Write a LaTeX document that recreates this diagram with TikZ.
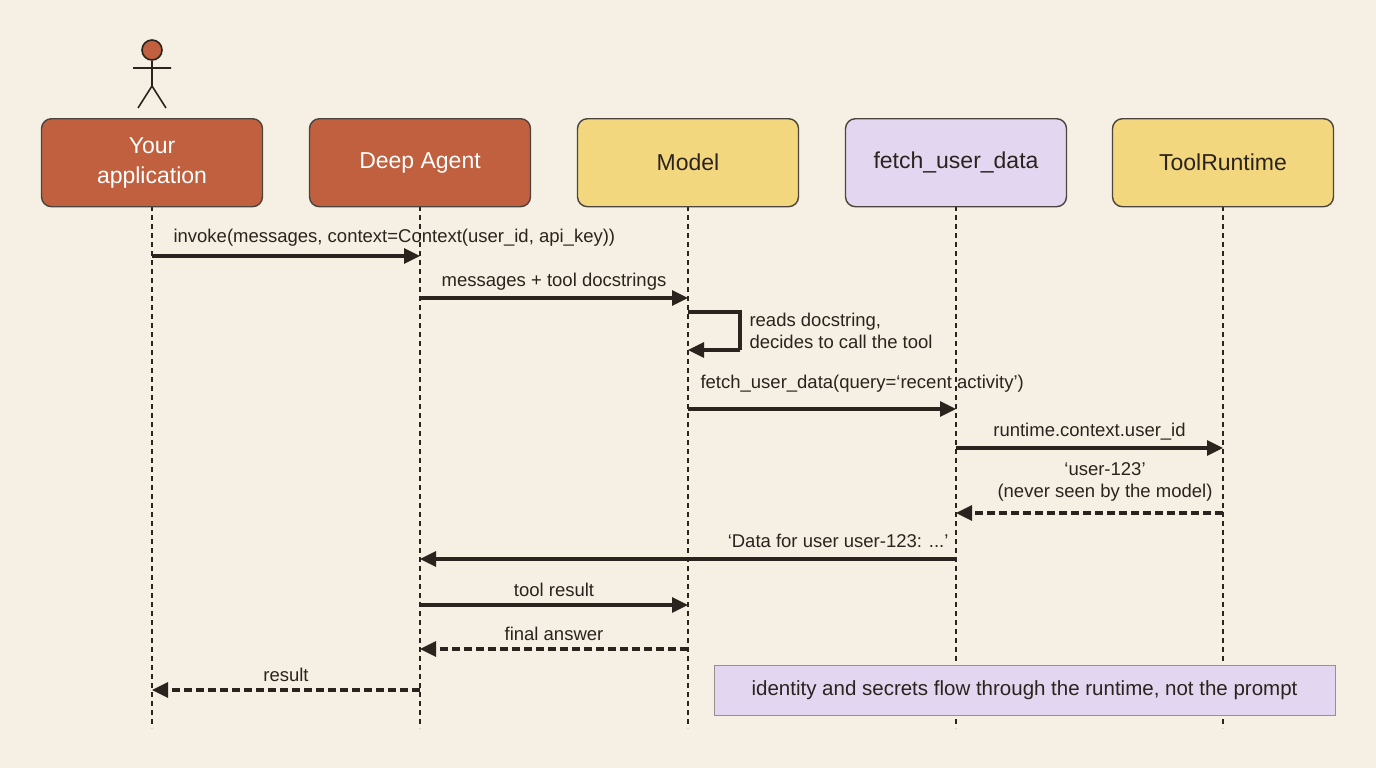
\documentclass[tikz,border=0pt]{standalone}
\usepackage{fontspec}
\setmainfont{Liberation Sans}
\usetikzlibrary{arrows.meta}
\definecolor{bg}{HTML}{F5F0E3}
\definecolor{org}{HTML}{C0603E}
\definecolor{yel}{HTML}{F2D77F}
\definecolor{lav}{HTML}{E3D6F0}
\definecolor{ink}{HTML}{2B231D}
\begin{document}
\begin{tikzpicture}[x=1pt,y=-1pt,
  box/.style={draw=ink!85,line width=1.4pt,rounded corners=10pt,minimum width=221pt,minimum height=88pt,align=center,font=\fontsize{23}{27}\selectfont,anchor=north},
  life/.style={draw=ink,line width=1.2pt,dash pattern=on 5pt off 4pt},
  msg/.style={draw=ink,line width=3.2pt,-{Triangle[length=16pt,width=15pt]}},
  ret/.style={msg,dash pattern=on 8pt off 4pt},
  lbl/.style={font=\fontsize{18.5}{22}\selectfont,text=ink}]
\fill[bg] (0,0) rectangle (1376,768);
\useasboundingbox (0,0) rectangle (1376,768);
\foreach \n/\x in {a/152,b/420,c/688,d/956,e/1223}{
  \coordinate (\n t) at (\x,206); \coordinate (\n b) at (\x,728);
  \draw[life] (\n t) -- (\n b);}
\node[box,fill=org,text=white] (A) at (152,118) {Your\\[3pt]application};
\node[box,fill=org,text=white] (B) at (420,118) {Deep Agent};
\node[box,fill=yel,text=ink] (C) at (688,118) {Model};
\node[box,fill=lav,text=ink] (D) at (956,118) {fetch\_user\_data};
\node[box,fill=yel,text=ink] (E) at (1223,118) {ToolRuntime};
% actor
\node[circle,draw=ink,fill=org,line width=1.6pt,minimum size=20pt,inner sep=0] (head) at (152,50) {};
\coordinate (hip) at (152,86);
\draw[ink,line width=1.6pt] (head.south) -- (hip) (133,68) -- (171,68) (hip) -- (138,108) (hip) -- (166,108);
% messages
\foreach \n/\x in {a/152,b/420,c/688,d/956,e/1223}{
  \foreach \y in {256,298,312,350,409,448,513,559,605,649,690}{
    \coordinate (\n\y) at (\x,\y);}}
\draw[msg] (a256) -- (b256);
\node[lbl,anchor=west] (l1t) at (170,238) {invoke(messages, context=Context(user\_id, api\_key))};
\draw[msg] (b298) -- node[lbl,above=3pt] {messages + tool docstrings} (c298);
\coordinate (l1) at (740,312); \coordinate (l2) at (740,350);
\draw[msg,-] (c312) -- (l1) -- (l2);
\draw[msg] (l2) -- (c350);
\node[lbl,anchor=west,align=left] (self) at (746,331) {reads docstring,\\decides to call the tool};
\draw[msg] (c409) -- (d409);
\node[lbl,anchor=west] (l4t) at (697,384) {fetch\_user\_data(query=‘recent activity’)};
\draw[msg] (d448) -- node[lbl,above=3pt] {runtime.context.user\_id} (e448);
\draw[ret] (e513) -- (d513);
\node[lbl,align=center] (l6t) at (1105,482) {‘user-123’\\(never seen by the model)};
\draw[msg] (d559) -- (b559);
\node[lbl,anchor=east] (l7t) at (952,541) {‘Data for user user-123: ...’};
\draw[msg] (b605) -- node[lbl,above=3pt] {tool result} (c605);
\draw[ret] (c649) -- node[lbl,above=3pt] {final answer} (b649);
\draw[ret] (b690) -- node[lbl,above=3pt] {result} (a690);
\node[draw=ink!50,fill=lav,line width=1pt,minimum width=621pt,minimum height=50pt,font=\fontsize{20.5}{24}\selectfont,text=ink] (note) at (1024.5,690) {identity and secrets flow through the runtime, not the prompt};
\end{tikzpicture}
\end{document}
